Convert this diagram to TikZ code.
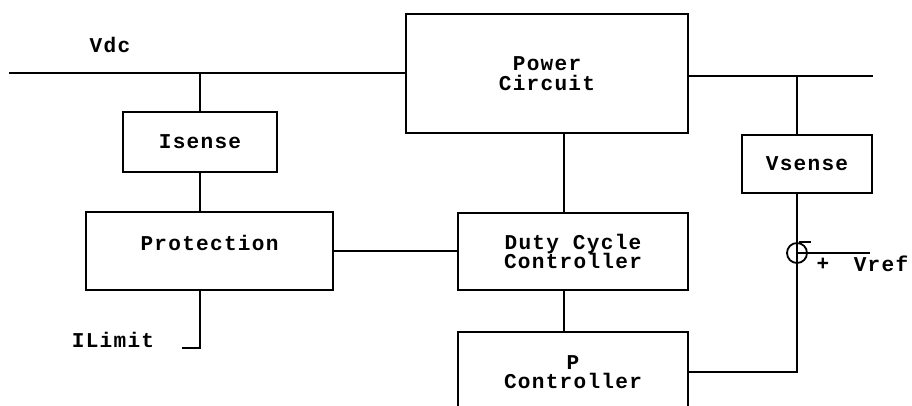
\documentclass[tikz,border=0pt]{standalone}
\usepackage{fontspec}
\setmainfont{Liberation Mono}[LetterSpace=6.0]
\usepackage{tikz}
\usetikzlibrary{positioning}

\begin{document}
\begin{tikzpicture}[
    x=0.025cm, y=-0.025cm,
    block/.style={
        rectangle,
        draw,
        line width=1.4pt,
        align=center,
        inner sep=0pt
    },
    junction/.style={
        circle,
        draw,
        line width=1.3pt,
        minimum size=0.5cm,
        inner sep=0pt
    },
    wire/.style={line width=1.4pt},
    lbl/.style={inner sep=0pt, align=center},
    font=\fontsize{15}{14}\selectfont\bfseries,
    node distance=1cm
]
\useasboundingbox (0,0) rectangle (912,406);
\clip (0,0) rectangle (912,406);

% Blocks
\node[block, minimum width=7.05cm, minimum height=2.975cm] (power) at (547,73.5) {Power\\Circuit};
\node[block, minimum width=3.85cm, minimum height=1.5cm] (isense) at (200,142) {Isense};
\node[block, minimum width=6.175cm, minimum height=1.95cm] (prot) at (209.5,251) {Protection\\[-2pt]~};
\node[block, minimum width=5.75cm, minimum height=1.925cm] (duty) at (573,251.5) {Duty Cycle\\Controller};
\node[block, below=of duty, minimum width=5.75cm, minimum height=2cm] (pctrl) {P\\Controller};
\node[block, minimum width=3.25cm, minimum height=1.45cm] (vsense) at (807,164) {Vsense};
\node[junction] (sum) at (797,253) {};

% Labels
\node[lbl] (vdc) at (110,45) {Vdc};
\node[lbl] (ilimit) at (113,340) {ILimit};
\node[lbl] (plus) at (823,264) {+};
\node[lbl] (vref) at (881,264) {Vref};

% Free ends
\coordinate (vdcL) at (9,73);
\coordinate (outR) at (873,76);
\coordinate (ilimR) at (182,348);
\coordinate (vrefR) at (870,253);

% Supply side
\draw[wire] (vdcL) -- (vdcL -| power.west);
\draw[wire] (isense.north) -- (isense.north |- vdcL);
\draw[wire] (isense.south) -- (isense.south |- prot.north);
\draw[wire] (isense.south |- prot.south) |- (ilimR);
\draw[wire] (prot.east) -- (prot.east -| duty.west);

% Control chain
\draw[wire] ([xshift=-0.225cm]duty.north) -- ([xshift=-0.225cm]duty.north |- power.south);
\draw[wire] ([xshift=-0.225cm]duty.south) -- ([xshift=-0.225cm]pctrl.north);

% Output and feedback
\draw[wire] (outR) -- (outR -| power.east);
\draw[wire] (sum.north |- vsense.north) -- (sum.north |- outR);
\draw[wire] (sum.north |- vsense.south) |- (pctrl.east);
\draw[wire] (sum.center) -- (vrefR);
\draw[wire] ([xshift=0.05cm]sum.north) -- ++(12,0);

\end{tikzpicture}
\end{document}
